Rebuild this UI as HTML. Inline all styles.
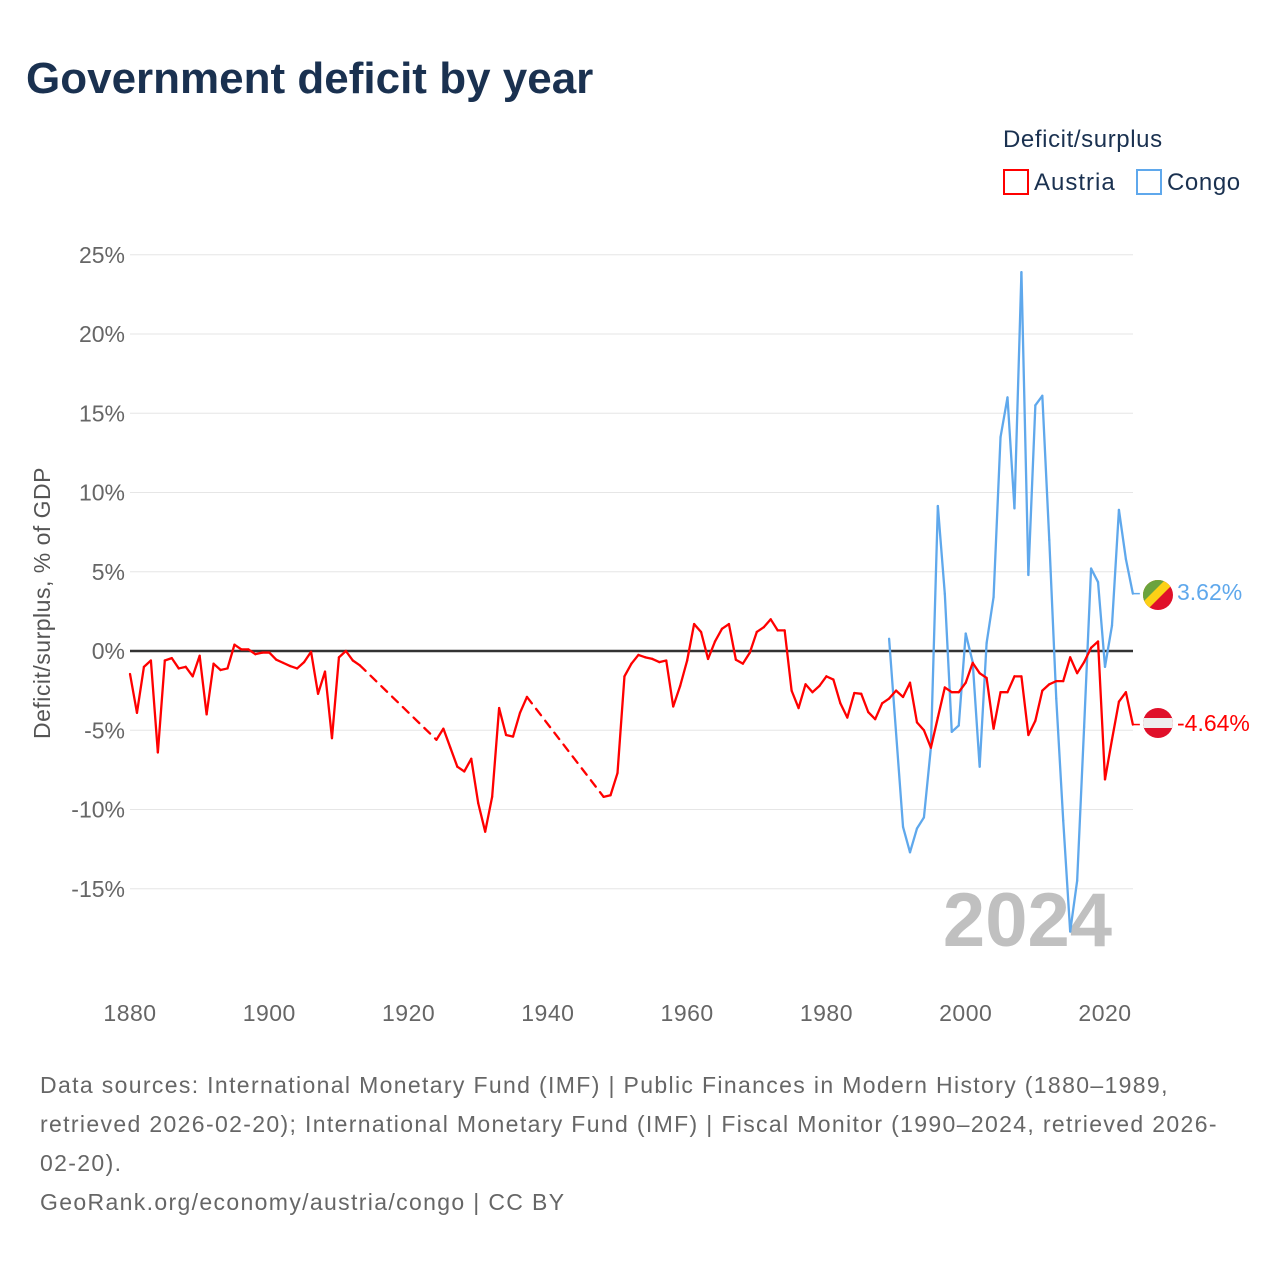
<!DOCTYPE html>
<html><head><meta charset="utf-8"><style>
body{margin:0;background:#fff;width:1280px;height:1280px;overflow:hidden;font-family:"Liberation Sans",sans-serif}
svg text{font-family:"Liberation Sans",sans-serif}
</style></head><body>
<svg id="chart" width="1280" height="1280">
<text x="26" y="93" font-size="44" font-weight="bold" fill="#1a3150">Government deficit by year</text>
<text x="1003" y="147" font-size="24" fill="#1a3150" letter-spacing="0.6">Deficit/surplus</text>
<g><rect x="1004" y="170" width="24" height="24" fill="none" stroke="#f00" stroke-width="2"/><text x="1034" y="190" font-size="24" fill="#1a3150" letter-spacing="1">Austria</text></g>
<g><rect x="1137" y="170" width="24" height="24" fill="none" stroke="#5fa8ec" stroke-width="2"/><text x="1167" y="190" font-size="24" fill="#1a3150" letter-spacing="0.6">Congo</text></g>
<g id="grid"></g><g id="xt"></g>
<text x="1112" y="946" font-size="76" font-weight="bold" fill="#c0c0c0" text-anchor="end">2024</text>
<g id="lines"></g>
<text transform="translate(50,603) rotate(-90)" font-size="23" fill="#555" text-anchor="middle" letter-spacing="0.5">Deficit/surplus, % of GDP</text>
<g>
<clipPath id="cc"><circle cx="1158" cy="595" r="15"/></clipPath>
<g clip-path="url(#cc)"><rect x="1140" y="577" width="40" height="40" fill="#e0102a"/><polygon points="1140,577 1180,577 1140,617" fill="#fcd116"/><polygon points="1140,577 1168,577 1140,605" fill="#6aa33e"/></g>
<text x="1177" y="600" font-size="23" fill="#5fa8ec">3.62%</text></g>
<g>
<clipPath id="ca"><circle cx="1158" cy="723" r="15"/></clipPath>
<g clip-path="url(#ca)"><rect x="1140" y="705" width="40" height="40" fill="#e0102a"/><rect x="1140" y="718" width="40" height="10" fill="#eee"/></g>
<text x="1177" y="731" font-size="23" fill="#f00">-4.64%</text></g>
<text font-size="23" fill="#666" letter-spacing="1.35"><tspan x="40" y="1093">Data sources: International Monetary Fund (IMF) | Public Finances in Modern History (1880–1989,</tspan><tspan x="40" y="1132">retrieved 2026-02-20); International Monetary Fund (IMF) | Fiscal Monitor (1990–2024, retrieved 2026-</tspan><tspan x="40" y="1171">02-20).</tspan><tspan x="40" y="1210">GeoRank.org/economy/austria/congo | CC BY</tspan></text>
</svg>
<script>
const yTicks=[25,20,15,10,5,0,-5,-10,-15];
const xTicks=[1880,1900,1920,1940,1960,1980,2000,2020];
const austriaYears=[1880,1881,1882,1883,1884,1885,1886,1887,1888,1889,1890,1891,1892,1893,1894,1895,1896,1897,1898,1899,1900,1901,1902,1903,1904,1905,1906,1907,1908,1909,1910,1911,1912,1913,1924,1925,1926,1927,1928,1929,1930,1931,1932,1933,1934,1935,1936,1937,1948,1949,1950,1951,1952,1953,1954,1955,1956,1957,1958,1959,1960,1961,1962,1963,1964,1965,1966,1967,1968,1969,1970,1971,1972,1973,1974,1975,1976,1977,1978,1979,1980,1981,1982,1983,1984,1985,1986,1987,1988,1989,1990,1991,1992,1993,1994,1995,1996,1997,1998,1999,2000,2001,2002,2003,2004,2005,2006,2007,2008,2009,2010,2011,2012,2013,2014,2015,2016,2017,2018,2019,2020,2021,2022,2023,2024];
const austriaValues=[-1.45,-3.9,-1.0,-0.6,-6.4,-0.6,-0.45,-1.1,-1.0,-1.6,-0.3,-4.0,-0.8,-1.2,-1.1,0.4,0.1,0.1,-0.2,-0.1,-0.1,-0.55,-0.75,-0.95,-1.1,-0.7,-0.05,-2.7,-1.3,-5.5,-0.4,0.0,-0.6,-0.9,-5.6,-4.9,-6.1,-7.3,-7.6,-6.8,-9.6,-11.4,-9.2,-3.6,-5.3,-5.4,-3.9,-2.9,-9.2,-9.1,-7.7,-1.6,-0.8,-0.25,-0.4,-0.5,-0.7,-0.6,-3.5,-2.2,-0.6,1.7,1.2,-0.5,0.6,1.4,1.7,-0.55,-0.8,-0.1,1.2,1.5,2.0,1.3,1.3,-2.5,-3.6,-2.1,-2.6,-2.2,-1.6,-1.8,-3.3,-4.2,-2.65,-2.7,-3.85,-4.3,-3.3,-3.0,-2.5,-2.9,-2.0,-4.5,-5.0,-6.1,-4.2,-2.3,-2.6,-2.6,-2.0,-0.75,-1.4,-1.7,-4.9,-2.6,-2.6,-1.6,-1.6,-5.3,-4.4,-2.5,-2.1,-1.9,-1.9,-0.4,-1.4,-0.7,0.2,0.6,-8.1,-5.6,-3.2,-2.6,-4.64];
const congoYears=[1989,1991,1992,1993,1994,1995,1996,1997,1998,1999,2000,2001,2002,2003,2004,2005,2006,2007,2008,2009,2010,2011,2012,2013,2014,2015,2016,2017,2018,2019,2020,2021,2022,2023,2024];
const congoValues=[0.77,-11.1,-12.7,-11.2,-10.5,-6.1,9.15,3.6,-5.1,-4.7,1.1,-0.7,-7.3,0.5,3.4,13.5,16.0,9.0,23.9,4.8,15.5,16.1,7.0,-3.0,-10.7,-17.7,-14.5,-4.8,5.2,4.35,-1.0,1.6,8.9,5.8,3.62];
const NS='http://www.w3.org/2000/svg';
const X=y=>130+(y-1880)*975/140;
const Y=v=>651-v*15.85;
function mk(t,a,p){const e=document.createElementNS(NS,t);for(const k in a)e.setAttribute(k,a[k]);p.appendChild(e);return e;}
const grid=document.getElementById('grid');
yTicks.forEach(v=>{
 const l=mk('line',{x1:130,x2:1133,y1:Y(v),y2:Y(v),stroke:v===0?'#333':'#e6e6e6','stroke-width':v===0?2.5:1},grid);
 
 
 const t=mk('text',{x:125,y:Y(v)+8,'font-size':23,fill:'#666','text-anchor':'end'},grid);
 t.textContent=v+'%';
 
 
});
const xt=document.getElementById('xt');
xTicks.forEach(v=>{
 const t=mk('text',{x:X(v),y:1021,'font-size':23,fill:'#666','text-anchor':'middle','letter-spacing':0.5},xt);
 t.textContent=v;
 
 
});
const lines=document.getElementById('lines');
function draw(years,vals,color,name){
 for(let i=1;i<years.length;i++){
  const gap=years[i]-years[i-1]>2;
  const l=mk('line',{x1:X(years[i-1]),y1:Y(vals[i-1]),x2:X(years[i]),y2:Y(vals[i]),stroke:color,'stroke-width':2.3,'stroke-linecap':'round'},lines);
  if(gap)l.setAttribute('stroke-dasharray','8,7');
  
  
 }
 const n=years.length-1;
 const c=mk('line',{x1:X(years[n]),y1:Y(vals[n]),x2:X(years[n])+7,y2:Y(vals[n]),stroke:color,'stroke-width':1.5},lines);
 
 
}
draw(congoYears,congoValues,'#5fa8ec','congo-line');
draw(austriaYears,austriaValues,'#f00','austria-line');
</script>
</body></html>
